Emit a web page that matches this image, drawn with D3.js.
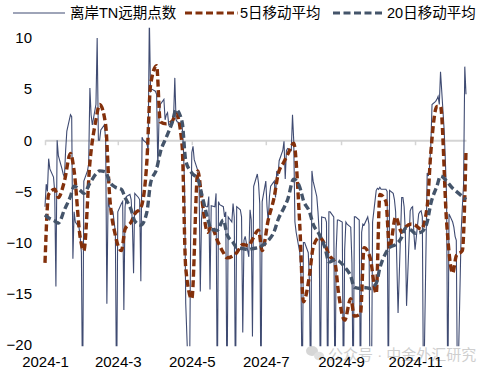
<!DOCTYPE html>
<html>
<head>
<meta charset="utf-8">
<script src="https://cdn.jsdelivr.net/npm/d3@7"></script>
<style>
  body { margin: 0; background: #fff; }
  svg { display: block; }
</style>
</head>
<body>
<div id="chart"></div>
<script>
// series names and axis labels
const seriesNames = ['离岸TN远期点数', '5日移动平均', '20日移动平均'];
const tickMonths = [1, 3, 5, 7, 9, 11];
const yTicks = [-20, -15, -10, -5, 0, 5, 10];
const watermark = '公众号 · 中金外汇研究';

// daily points (one per weekday from 2024-01-01)
const tnPoints = [
  -6.5, -4.3, -5, -1.8, -2.8, -3.6, -5, -14.3, 0, -1.5,
  -2.8, -3.3, -3.6, -1, 0.9, 2.5, 2.3, -11.6, -7, -8,
  -8.5, -9.4, -11, -26, -4, -3, -2.3, 5.1, 2.5, 1.5,
  3.5, 10, 0, 0, 1, 1.5, 0, -16, -5.6, -6.5,
  -7, -8, -9, -26, -7, -6.2, -6, -16.6, -6.5,
  -5.5, -5.3, -5.8, -8, -13, -5.2, -5.6, -5.8, -13.8, 0.3,
  0, -0.3, -1, 12, 4.8, 5, 4.8, 4.5, -2.7, 2.2,
  3.5, 4, 2, 2.5, 2.7, 1.5, 1.8, 2.3, 6.1, 2,
  1.8, 1.6, 1.5, -0.5, -4.3, -16, -26, -10, -1.2, -0.6,
  -1.9, -3, -4.1, -14.8, -7.7, -6.3, -6.5, -6.5, -5.5, -14.6,
  -6.4, -6.5, -5.2, -26, -6, -6.3, -6.5, -7.5, -7, -26,
  -7.5, -8, -6.2, -7.5, -26, -6.5, -6.8, -7.5, -18.8, -9.8,
  -9.4, -11.4, -6.8, -7.8, -19.2, -4.5, -3.3, -4.2, -6.2, -26,
  -6, -4, -6.5, -8, -5.5, -4.5, -4, -5.6, -3, -3.5,
  -2, -1, -0.1, -3.8, -1, -0.8, -1, 2.5, 0, -8,
  -9, -11, -13.3, -26, -10, -10, -11, -14, -26, -3,
  -4, -5.5, -7, -9, -26, -7.5, -7.6, -8, -26, -7,
  -7, -7.5, -26, -10.7, -7.8, -7.8, -8, -26, -10.7, -8,
  -8.2, -8.5, -12, -26, -7.5, -7.5, -7.8, -26, -9, -8.2,
  -8.3, -7.5, -8.2, -26, -26, -8, -4.9, -4.7, -4.8,
  -4.6, -4.8, -4.8, -4.8, -5, -26, -4.9, -5.2, -5.8, -7,
  -12, -16.9, -5.6, -5.6, -6.5, -9, -16.2, -6.9, -6.6, -6.5,
  -9, -10.7, -7.2, -7, -6.9, -7.5, -26, -3.2, -3.5, -2.5,
  -0.5, 3.5, 3.8, 4, 4.3, 3.5, 6.7, 1, -2, -5.6,
  -26, -7.2, -8, -8.5, -9.4, -9.8, -26, -9, -6.5, -4.3,
  7.2, 4.5
];

const maStep = 3;
const ma5 = [
  -12, -5.3, -4.8, -5.6, -4, -1.3, -3, -9.5, -10.8, -2.2,
  2, 3.5, 1.5, -5, -9.3, -10.8, -8.7, -8, -7.2, -6.6,
  -2, 5.4, 7.3, 1.8, 1.6, 1.9, 2.6, -0.5, -12.5, -15.5,
  -3, -5.5, -9, -8.4, -9.8, -11, -11.5, -11.3, -11, -10.2,
  -10.3, -9.7, -8.8, -10.8, -7.8, -5.5, -3.4, -2.1, -1.4, -0.3,
  -8.3, -15.8, -13.2, -10.5, -9.5, -10.3, -11.2, -12, -15, -17.6,
  -15.5, -17.2, -17, -10.5, -11.5, -15, -5.3, -6, -10.6, -7.5,
  -9, -8.5, -8.2, -8.3, -8.7, -6.5, -1.2, 3.3, 3.3, -8,
  -13, -11.3, -10.8, -1
];
const ma20 = [
  -7.3, -7.6, -7.9, -8.1, -6.8, -5.5, -4.5, -4.9, -5.2, -4.2,
  -3.3, -3, -3.1, -4, -4.6, -4.8, -5.6, -6.8, -7.9, -8.3,
  -7, -4.2, -2.8, -1.2, 0.3, 1.8, 3, 1.8, -2, -3.2,
  -3.8, -5.2, -7.6, -8.7, -8.8, -7.8, -9.2, -10, -10.5, -10.6,
  -10.7, -10.6, -10.5, -10.3, -9.8, -8.9, -7.8, -6.6, -5.8, -3.8,
  -4.6, -5.9, -7, -8.2, -9.2, -10.6, -11.9, -11.7, -11.8, -12.4,
  -13.3, -14.4, -14.5, -14.4, -14.5, -14, -12.5, -11, -10.5, -10.2,
  -9.5, -8.6, -8.8, -9.1, -9, -8, -6.2, -4.5, -3.5, -4,
  -4.7, -5, -5.5, -5.8
];

// trading days
const days = [];
for (let d = new Date(2024, 0, 1); days.length < tnPoints.length; d.setDate(d.getDate() + 1)) {
  if (d.getDay() !== 0 && d.getDay() !== 6) days.push(new Date(d));
}
const rawData = tnPoints.map((v, i) => ({ date: days[i], value: v }));
const ma5Data = ma5.map((v, i) => ({ date: days[i * maStep], value: v }));
const ma20Data = ma20.map((v, i) => ({ date: days[i * maStep], value: v }));

const width = 485;
const height = 374;
const plotLeft = 45, plotRight = 466, plotTop = 27.8, plotBottom = 344.7;

const svg = d3
  .select('#chart')
  .append('svg')
  .attr('width', width)
  .attr('height', height);

const xScale = d3
  .scaleTime()
  .domain([new Date(2024, 0, 1), new Date(2024, 11, 13)])
  .range([plotLeft, plotRight]);
const yScale = d3
  .scaleLinear()
  .domain([-20, 11])
  .range([plotBottom, plotTop]);

const font = '"Liberation Sans", Arial, "Noto Sans CJK SC", sans-serif';
const navy = '#3f4b72';
const red = '#83300b';
const navyDash = '#44546a';

// watermark (drawn first, sits under labels)
const wm = svg.append('g').attr('opacity', 0.55);
wm.append('ellipse').attr('cx', 312).attr('cy', 351).attr('rx', 6).attr('ry', 5).attr('fill', '#b5b5b5');
wm.append('ellipse').attr('cx', 319).attr('cy', 356).attr('rx', 5).attr('ry', 4.2).attr('fill', '#c8c8c8');
wm.append('text')
  .attr('x', 328)
  .attr('y', 360)
  .attr('font-family', font)
  .attr('font-size', 15)
  .attr('fill', '#a8a8a8')
  .text(watermark);

svg.append('clipPath')
  .attr('id', 'plotClip')
  .append('rect')
  .attr('x', plotLeft - 2)
  .attr('y', plotTop)
  .attr('width', plotRight - plotLeft + 4)
  .attr('height', plotBottom - plotTop + 1.5);

// zero line with ticks
const tickDates = tickMonths.map(m => new Date(2024, m - 1, 1));
const zeroAxis = svg
  .append('g')
  .attr('transform', `translate(0, ${yScale(0)})`)
  .call(d3.axisBottom(xScale).tickValues(tickDates).tickSize(5).tickSizeOuter(0).tickFormat(''));
zeroAxis.select('.domain').attr('stroke', '#d4d4d4').attr('stroke-width', 2);
zeroAxis.selectAll('.tick line').attr('stroke', '#d4d4d4').attr('stroke-width', 1.5);

// month labels at the bottom
const xLabels = svg
  .append('g')
  .attr('transform', `translate(0, 353)`)
  .call(d3.axisBottom(xScale).tickValues(tickDates).tickSize(0).tickPadding(3)
    .tickFormat(d => `2024-${d.getMonth() + 1}`));
xLabels.select('.domain').remove();
xLabels.selectAll('text')
  .attr('font-family', font)
  .attr('font-size', 15)
  .attr('fill', '#000');

// y labels
const yAxis = svg
  .append('g')
  .attr('transform', `translate(${plotLeft}, 0)`)
  .call(d3.axisLeft(yScale).tickValues(yTicks).tickSize(0).tickPadding(13));
yAxis.select('.domain').remove();
yAxis.selectAll('text')
  .attr('font-family', font)
  .attr('font-size', 15)
  .attr('fill', '#000');

// lines
const plot = svg.append('g').attr('clip-path', 'url(#plotClip)');

const rawLine = d3
  .line()
  .x(d => xScale(d.date))
  .y(d => yScale(d.value));
const smoothLine = d3
  .line()
  .x(d => xScale(d.date))
  .y(d => yScale(d.value))
  .curve(d3.curveMonotoneX);

plot.append('path')
  .data([rawData])
  .attr('fill', 'none')
  .attr('stroke', navy)
  .attr('stroke-width', 1.1)
  .attr('d', rawLine);

plot.append('path')
  .data([ma5Data])
  .attr('fill', 'none')
  .attr('stroke', red)
  .attr('stroke-width', 3.4)
  .attr('stroke-dasharray', '7 3.5')
  .attr('d', smoothLine);

plot.append('path')
  .data([ma20Data])
  .attr('fill', 'none')
  .attr('stroke', navyDash)
  .attr('stroke-width', 3.4)
  .attr('stroke-dasharray', '7 3.5')
  .attr('d', smoothLine);

// legend
const legendItems = [
  { name: seriesNames[0], color: navy, width: 1.2, dash: null, x1: 13, x2: 65, tx: 70 },
  { name: seriesNames[1], color: red, width: 3, dash: '7 3.5', x1: 185, x2: 238, tx: 240 },
  { name: seriesNames[2], color: navyDash, width: 3, dash: '7 3.5', x1: 333, x2: 385, tx: 387 }
];
const legend = svg.append('g');
legendItems.forEach(item => {
  legend.append('line')
    .attr('x1', item.x1)
    .attr('x2', item.x2)
    .attr('y1', 13)
    .attr('y2', 13)
    .attr('stroke', item.color)
    .attr('stroke-width', item.width)
    .attr('stroke-dasharray', item.dash);
  legend.append('text')
    .attr('x', item.tx)
    .attr('y', 18)
    .attr('font-family', font)
    .attr('font-size', 14.5)
    .attr('fill', '#000')
    .text(item.name);
});
</script>
</body>
</html>
